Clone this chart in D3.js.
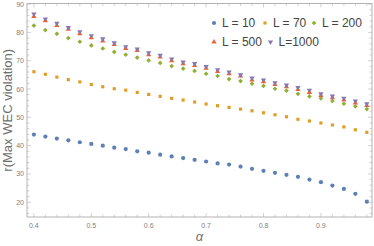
<!DOCTYPE html>
<html lang="en">
	<head>
		<meta charset="utf-8">
		<title> WEC violation </title>
		<script type="text/javascript" src="https://cdn.jsdelivr.net/npm/d3@7"></script>
		<style type="text/css">
			body { margin: 0; background: #fff; }
			svg text { font-family: "Liberation Sans", Arial, sans-serif; }
		</style>
	</head>
	<body>
		<div id="chart"></div>
		<script type="text/javascript">

			//Width and height
			var w = 374;
			var h = 246;

			// alpha values 0.40 .. 0.98
			var alphas = [0.40, 0.42, 0.44, 0.46, 0.48, 0.50, 0.52, 0.54, 0.56, 0.58,
						  0.60, 0.62, 0.64, 0.66, 0.68, 0.70, 0.72, 0.74, 0.76, 0.78,
						  0.80, 0.82, 0.84, 0.86, 0.88, 0.90, 0.92, 0.94, 0.96, 0.98];

			var L10 = [43.9, 43.2, 42.5, 41.9, 41.2, 40.6, 40.0, 39.3, 38.8, 38.0,
					   37.5, 36.8, 36.2, 35.6, 35.0, 34.4, 33.7, 33.3, 32.6, 31.8,
					   31.1, 30.4, 29.7, 29.0, 28.0, 27.1, 25.9, 24.7, 23.0, 20.2];
			var L70 = [66.1, 65.2, 64.2, 63.3, 62.5, 61.6, 60.8, 60.1, 59.6, 58.8,
					   58.1, 57.4, 56.7, 56.1, 55.4, 54.7, 54.1, 53.5, 52.9, 52.3,
					   51.6, 50.9, 50.2, 49.3, 48.7, 48.0, 47.3, 46.6, 45.6, 44.7];
			var L200 = [82.4, 80.8, 79.5, 78.0, 76.7, 75.4, 74.3, 73.1, 72.1, 71.1,
						70.1, 69.2, 68.1, 67.2, 66.4, 65.4, 64.6, 63.5, 62.8, 61.9,
						61.1, 60.1, 59.4, 58.3, 57.4, 56.7, 55.8, 54.8, 53.9, 52.9];
			var L500 = [85.6, 84.1, 82.4, 81.1, 79.5, 78.1, 77.0, 75.7, 74.3, 73.6,
						72.1, 71.3, 70.0, 68.9, 68.3, 67.3, 66.2, 65.4, 64.6, 63.2,
						62.6, 61.6, 60.8, 59.8, 58.8, 57.7, 56.9, 56.1, 55.1, 54.2];
			var L1000 = [86.5, 84.7, 83.2, 81.7, 80.2, 78.8, 77.7, 76.3, 74.9, 74.1,
						 72.8, 71.9, 70.6, 69.5, 69.0, 67.9, 66.8, 66.0, 65.0, 63.9,
						 63.2, 62.2, 61.4, 60.5, 59.6, 58.3, 57.5, 56.7, 55.8, 54.8];

			var seriesNames = ["L = 10", "L = 70", "L = 200", "L = 500", "L=1000"];
			var xTicks = [0.4, 0.5, 0.6, 0.7, 0.8, 0.9];
			var yTicks = [20, 30, 40, 50, 60, 70, 80, 90];

			var series = [
				{ name: seriesNames[0], values: L10, color: "#5e81b5", symbol: d3.symbolCircle, size: 14 },
				{ name: seriesNames[1], values: L70, color: "#e19c24", symbol: d3.symbolSquare, size: 10 },
				{ name: seriesNames[2], values: L200, color: "#8fb032", symbol: d3.symbolSquare, size: 11, rot: 45 },
				{ name: seriesNames[3], values: L500, color: "#eb6235", symbol: d3.symbolTriangle, size: 12 },
				{ name: seriesNames[4], values: L1000, color: "#8778b3", symbol: d3.symbolTriangle, size: 12, rot: 180 }
			];

			// plot box
			var pLeft = 27, pRight = 372, pTop = 3.5, pBottom = 217;

			var xScale = d3.scaleLinear()
				.domain([0.388, 0.989])
				.range([pLeft, pRight]);
			var yScale = d3.scaleLinear()
				.domain([14.8, 90.2])
				.range([pBottom, pTop]);

			var svg = d3.select("#chart")
				.append("svg")
				.attr("width", w)
				.attr("height", h);

			var frameColor = "#b3b3b3";
			var tickText = "#808080";

			// frame
			svg.append("rect")
				.attr("x", pLeft)
				.attr("y", pTop)
				.attr("width", pRight - pLeft)
				.attr("height", pBottom - pTop)
				.attr("fill", "none")
				.attr("stroke", frameColor)
				.attr("stroke-width", 1);

			// ticks (inward, major + minor) on all four sides
			var xMinor = d3.range(0.40, 0.99, 0.02);
			var yMinor = d3.range(16, 90.1, 2);
			var g = svg.append("g").attr("stroke", frameColor).attr("stroke-width", 0.6);
			xMinor.forEach(function(v) {
				var major = Math.abs(v * 10 - Math.round(v * 10)) < 1e-6;
				var len = major ? 4 : 2.5;
				g.append("line").attr("x1", xScale(v)).attr("x2", xScale(v))
					.attr("y1", pBottom).attr("y2", pBottom - len);
				g.append("line").attr("x1", xScale(v)).attr("x2", xScale(v))
					.attr("y1", pTop).attr("y2", pTop + len);
			});
			yMinor.forEach(function(v) {
				var major = v % 10 === 0;
				var len = major ? 4 : 2.5;
				g.append("line").attr("y1", yScale(v)).attr("y2", yScale(v))
					.attr("x1", pLeft).attr("x2", pLeft + len);
				g.append("line").attr("y1", yScale(v)).attr("y2", yScale(v))
					.attr("x1", pRight).attr("x2", pRight - len);
			});

			// tick labels
			svg.selectAll(".xt")
				.data(xTicks)
				.enter()
				.append("text")
				.attr("class", "xt")
				.attr("x", function(d) { return xScale(d); })
				.attr("y", pBottom + 11)
				.attr("text-anchor", "middle")
				.attr("font-size", "7px")
				.attr("fill", tickText)
				.text(function(d) { return d3.format(".1f")(d); });

			svg.selectAll(".yt")
				.data(yTicks)
				.enter()
				.append("text")
				.attr("class", "yt")
				.attr("x", pLeft - 3)
				.attr("y", function(d) { return yScale(d) + 2.5; })
				.attr("text-anchor", "end")
				.attr("font-size", "7px")
				.attr("fill", tickText)
				.text(function(d) { return d; });

			// axis labels
			svg.append("text")
				.attr("transform", "translate(12," + (pBottom + pTop) / 2 + ") rotate(-90)")
				.attr("text-anchor", "middle")
				.attr("font-size", "13px")
				.attr("fill", "#6e6e6e")
				.text("r(Max WEC violation)");

			svg.append("text")
				.attr("x", (pLeft + pRight) / 2)
				.attr("y", 241)
				.attr("text-anchor", "middle")
				.attr("font-size", "13px")
				.attr("font-style", "italic")
				.attr("font-family", "'DejaVu Serif', serif")
				.attr("fill", "#6e6e6e")
				.text("α");

			// points
			series.forEach(function(s) {
				var sym = d3.symbol().type(s.symbol).size(s.size);
				svg.append("g")
					.selectAll("path")
					.data(s.values)
					.enter()
					.append("path")
					.attr("d", sym)
					.attr("transform", function(d, i) {
						return "translate(" + xScale(alphas[i]) + "," + yScale(d) + ")" + (s.rot ? " rotate(" + s.rot + ")" : "");
					})
					.attr("fill", s.color);
			});

			// legend
			var legendPos = [[214, 23], [265, 23], [314, 23], [214, 42], [270.5, 42]];
			series.forEach(function(s, i) {
				var p = legendPos[i];
				var sym = d3.symbol().type(s.symbol).size(s.size);
				svg.append("path")
					.attr("d", sym)
					.attr("transform", "translate(" + p[0] + "," + p[1] + ")" + (s.rot ? " rotate(" + s.rot + ")" : ""))
					.attr("fill", s.color);
				svg.append("text")
					.attr("x", p[0] + 8)
					.attr("y", p[1] + 4)
					.attr("font-size", "12px")
					.attr("fill", "#444")
					.text(s.name);
			});

		</script>
	</body>
</html>
